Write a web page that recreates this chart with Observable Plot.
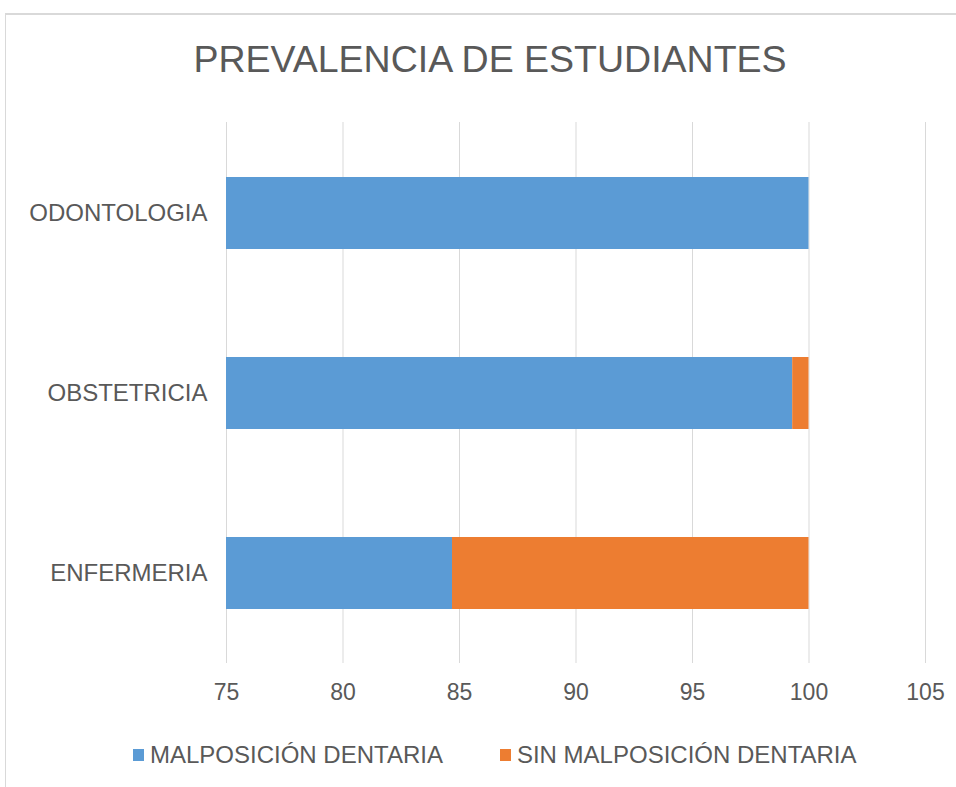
<!DOCTYPE html>
<html>
<head>
<meta charset="utf-8">
<script src="https://cdn.jsdelivr.net/npm/d3@7"></script>
<script src="https://cdn.jsdelivr.net/npm/@observablehq/plot@0.6"></script>
<style>
  html, body { margin: 0; padding: 0; background: #fff; }
  body { width: 956px; height: 787px; position: relative; overflow: hidden; font-family: "Liberation Sans", Arial, sans-serif; color: #595959; }
  #frame { position: absolute; left: 5px; top: 13px; width: 960px; height: 790px; border-top: 2px solid #d9d9d9; border-left: 1px solid #d9d9d9; box-sizing: border-box; }
  #title { position: absolute; left: 0; top: 41px; width: 980px; text-align: center; font-size: 37.5px; line-height: 37.5px; color: #595959; white-space: nowrap; }
  #chart { position: absolute; left: 0; top: 114px; }
  #legend { position: absolute; top: 743px; left: 133px; display: flex; align-items: center; font-size: 24px; line-height: 24px; color: #595959; white-space: nowrap; }
  .item { display: flex; align-items: center; }
  .sw { width: 11px; height: 12px; margin-right: 6px; display: inline-block; }
</style>
</head>
<body>
<div id="frame"></div>
<div id="title">PREVALENCIA DE ESTUDIANTES</div>
<div id="chart"></div>
<div id="legend"></div>
<script>
const categories = ["ODONTOLOGIA", "OBSTETRICIA", "ENFERMERIA"];
const seriesNames = ["MALPOSICIÓN DENTARIA", "SIN MALPOSICIÓN DENTARIA"];
const malposicion = [100, 99.3, 84.7];
const sinMalposicion = [0, 0.7, 15.3];
const xTicks = [75, 80, 85, 90, 95, 100, 105];
const colors = ["#5B9BD5", "#ED7D31"];

const data = [];
categories.forEach((c, i) => {
  data.push({cat: c, series: seriesNames[0], value: malposicion[i]});
  data.push({cat: c, series: seriesNames[1], value: sinMalposicion[i]});
});

const chart = Plot.plot({
  width: 956,
  height: 599,
  marginLeft: 226,
  marginRight: 31,
  marginTop: 8,
  marginBottom: 50,
  style: {fontFamily: "'Liberation Sans', Arial, sans-serif", color: "#595959", background: "transparent"},
  x: {domain: [75, 105], ticks: xTicks},
  y: {domain: categories, paddingInner: 0.6, paddingOuter: 0.3},
  color: {domain: seriesNames, range: colors},
  marks: [
    Plot.gridX(xTicks, {stroke: "#d9d9d9", strokeOpacity: 1, strokeWidth: 1}),
    Plot.barX(data, Plot.stackX({x: "value", y: "cat", fill: "series", clip: true, order: seriesNames})),
    Plot.axisX({ticks: xTicks, tickSize: 0, tickPadding: 20, fontSize: 23, label: null, fill: "#595959"}),
    Plot.axisY({tickSize: 0, tickPadding: 19, fontSize: 24, label: null, fill: "#595959"})
  ]
});
document.getElementById("chart").appendChild(chart);

const legend = document.getElementById("legend");
seriesNames.forEach((s, i) => {
  const item = document.createElement("div");
  item.className = "item";
  if (i > 0) item.style.marginLeft = "57px";
  const sw = document.createElement("span");
  sw.className = "sw";
  sw.style.background = colors[i];
  const t = document.createElement("span");
  t.textContent = s;
  item.appendChild(sw);
  item.appendChild(t);
  legend.appendChild(item);
});
</script>
</body>
</html>
